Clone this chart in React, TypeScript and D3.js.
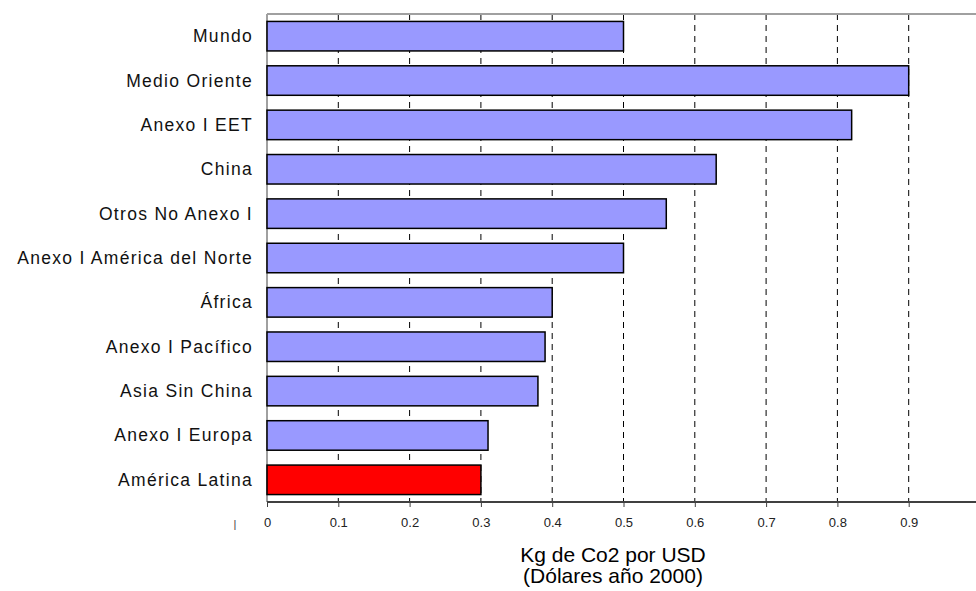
import * as d3 from 'd3';
import { useEffect, useRef } from 'react';

const regions = [
  'Mundo',
  'Medio Oriente',
  'Anexo I EET',
  'China',
  'Otros No Anexo I',
  'Anexo I América del Norte',
  'África',
  'Anexo I Pacífico',
  'Asia Sin China',
  'Anexo I Europa',
  'América Latina',
];
const intensity = [0.5, 0.9, 0.82, 0.63, 0.56, 0.5, 0.4, 0.39, 0.38, 0.31, 0.3];
const highlighted = ['América Latina'];
const ticks = [0, 0.1, 0.2, 0.3, 0.4, 0.5, 0.6, 0.7, 0.8, 0.9];
const titleLines = ['Kg de Co2 por USD', '(Dólares año 2000)'];

export default function App() {
  const svgRef = useRef<SVGSVGElement>(null);

  useEffect(() => {
    if (!svgRef.current) return;
    const W = 976;
    const H = 591;
    const left = 267;
    const top = 14;
    const bottom = 502;
    const font = '"Liberation Sans", Arial, sans-serif';

    const svg = d3.select(svgRef.current);
    svg.selectAll('*').remove();
    svg.attr('width', W).attr('height', H);

    const x = d3.scaleLinear().domain([0, 1]).range([left, 980]);
    const y = d3.scaleBand().domain(regions).range([top, bottom]).paddingInner(0.335).paddingOuter(0.1675);

    // Dashed gridlines
    svg
      .append('g')
      .selectAll('line')
      .data(ticks.filter((t) => t > 0))
      .join('line')
      .attr('x1', (d) => x(d))
      .attr('x2', (d) => x(d))
      .attr('y1', top)
      .attr('y2', bottom)
      .attr('stroke', '#000')
      .attr('stroke-width', 1)
      .attr('stroke-dasharray', '6,5');

    // Frame
    svg.append('line').attr('x1', left).attr('x2', W).attr('y1', top).attr('y2', top)
      .attr('stroke', '#a0a0a0').attr('stroke-width', 2);
    svg.append('line').attr('x1', left).attr('x2', left).attr('y1', top).attr('y2', bottom)
      .attr('stroke', '#a0a0a0').attr('stroke-width', 2);

    // Bars
    svg
      .append('g')
      .selectAll('rect')
      .data(regions)
      .join('rect')
      .attr('x', x(0))
      .attr('y', (d) => y(d) ?? 0)
      .attr('width', (_d, i) => x(intensity[i]) - x(0))
      .attr('height', y.bandwidth())
      .attr('fill', (d) => (highlighted.includes(d) ? '#FF0000' : '#9999FF'))
      .attr('stroke', '#000')
      .attr('stroke-width', 1.5);

    // Category labels
    svg
      .append('g')
      .selectAll('text')
      .data(regions)
      .join('text')
      .attr('x', left - 14)
      .attr('y', (d) => (y(d) ?? 0) + y.bandwidth() / 2 + 6)
      .attr('text-anchor', 'end')
      .attr('font-family', font)
      .attr('font-size', 17.5)
      .attr('letter-spacing', 1.3)
      .attr('fill', '#111')
      .text((d) => d);

    // X axis
    const ax = svg
      .append('g')
      .attr('transform', `translate(0,${bottom})`)
      .call(d3.axisBottom(x).tickValues(ticks).tickSize(5).tickFormat((d) => String(d)));
    ax.select('.domain').remove();
    ax.selectAll('.tick line').attr('stroke', '#404040');
    ax.selectAll('.tick text')
      .attr('font-family', font)
      .attr('font-size', 13)
      .attr('fill', '#222')
      .attr('y', 16);
    svg.append('line').attr('x1', left).attr('x2', W).attr('y1', bottom).attr('y2', bottom)
      .attr('stroke', '#404040').attr('stroke-width', 2);

    // Stray clipped label left of zero
    svg.append('text').attr('x', 235).attr('y', 528).attr('text-anchor', 'middle')
      .attr('font-family', font).attr('font-size', 11).attr('fill', '#444').text('|');

    // Axis title
    svg
      .append('g')
      .selectAll('text')
      .data(titleLines)
      .join('text')
      .attr('x', 613)
      .attr('y', (_d, i) => 562 + i * 21)
      .attr('text-anchor', 'middle')
      .attr('font-family', font)
      .attr('font-size', 21)
      .attr('fill', '#000')
      .text((d) => d);
  }, []);

  return <svg ref={svgRef} style={{ position: 'absolute', left: 0, top: 0 }} />;
}
